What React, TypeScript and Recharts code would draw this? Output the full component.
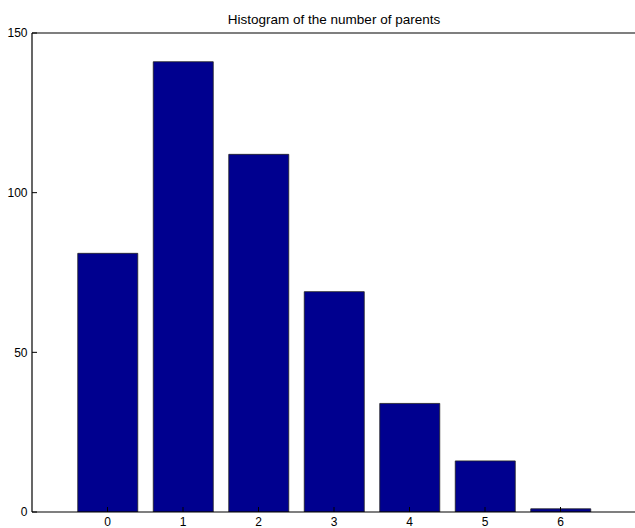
import React from "react";
import { BarChart, Bar, XAxis, YAxis } from "recharts";

const parentCounts = [0, 1, 2, 3, 4, 5, 6];
const frequencies = [81, 141, 112, 69, 34, 16, 1];
const xTicks = [0, 1, 2, 3, 4, 5, 6];
const yTicks = [0, 50, 100, 150];
const title = "Histogram of the number of parents";

const data = parentCounts.map((p, i) => ({ parents: p, count: frequencies[i] }));

const font = "'Liberation Sans', Arial, Helvetica, sans-serif";

export default function App() {
  return (
    <div
      style={{
        position: "absolute",
        left: 0,
        top: 0,
        width: 635,
        height: 528,
        overflow: "hidden",
        background: "#fff",
        fontFamily: font,
      }}
    >
      <div
        style={{
          position: "absolute",
          left: 32,
          width: 604,
          top: 12,
          textAlign: "center",
          fontSize: 13.5,
          color: "#000",
          whiteSpace: "nowrap",
        }}
      >
        {title}
      </div>
      <BarChart
        width={640}
        height={528}
        data={data}
        margin={{ top: 32, right: 3, bottom: 0, left: 0 }}
        style={{ position: "absolute", left: 0, top: 0 }}
      >
        <XAxis
          xAxisId="bottom"
          dataKey="parents"
          type="number"
          domain={[-1, 7]}
          ticks={xTicks}
          allowDataOverflow
          height={16}
          tickSize={-5}
          tickMargin={10}
          stroke="#000"
          axisLine={{ stroke: "#000", strokeWidth: 1.2 }}
          tickLine={{ stroke: "#000" }}
          tick={{ fill: "#000", fontSize: 12, fontFamily: font }}
        />
        <XAxis
          xAxisId="top"
          dataKey="parents"
          orientation="top"
          type="number"
          domain={[-1, 7]}
          ticks={xTicks}
          allowDataOverflow
          height={1}
          tickSize={-5}
          stroke="#000"
          axisLine={{ stroke: "#000", strokeWidth: 1.2 }}
          tickLine={{ stroke: "#000" }}
          tick={false}
        />
        <YAxis
          yAxisId="left"
          type="number"
          domain={[0, 150]}
          ticks={yTicks}
          allowDataOverflow
          width={32}
          tickSize={-5}
          tickMargin={9.5}
          stroke="#000"
          axisLine={{ stroke: "#000", strokeWidth: 1.2 }}
          tickLine={{ stroke: "#000" }}
          tick={{ fill: "#000", fontSize: 12, fontFamily: font }}
        />
        <YAxis
          yAxisId="right"
          orientation="right"
          type="number"
          domain={[0, 150]}
          ticks={yTicks}
          allowDataOverflow
          width={1}
          tickSize={-5}
          stroke="#000"
          axisLine={{ stroke: "#000", strokeWidth: 1.2 }}
          tickLine={{ stroke: "#000" }}
          tick={false}
        />
        <Bar
          xAxisId="top"
          yAxisId="right"
          dataKey="count"
          fill="none"
          stroke="none"
          barSize={60}
          legendType="none"
          isAnimationActive={false}
        />
        <Bar
          xAxisId="bottom"
          yAxisId="left"
          dataKey="count"
          fill="#00008F"
          stroke="#222"
          strokeWidth={0.8}
          barSize={60}
          isAnimationActive={false}
        />
      </BarChart>
    </div>
  );
}
